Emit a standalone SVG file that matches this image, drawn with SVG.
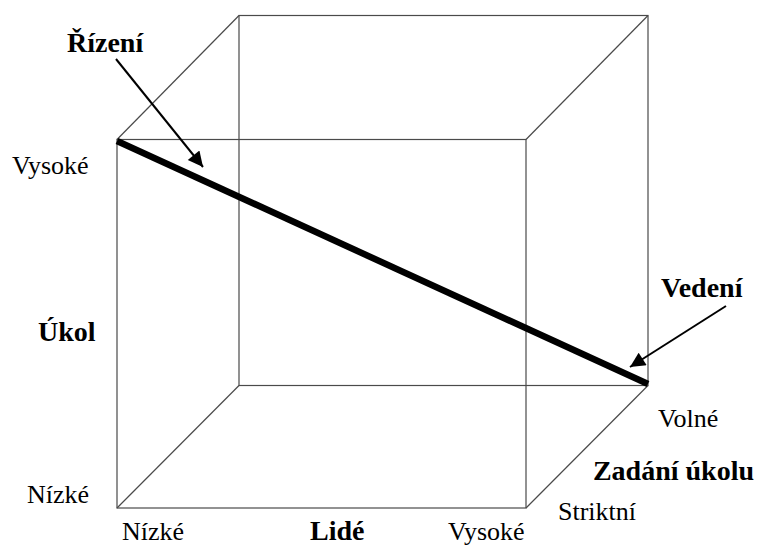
<svg xmlns="http://www.w3.org/2000/svg" width="757" height="546" viewBox="0 0 757 546">
<style>
.edge{fill:none;stroke:#4a4a4a;stroke-width:1.2}
.r{font-family:'Liberation Serif','DejaVu Serif',serif;font-size:26px;fill:#000}
.b{font-family:'Liberation Serif','DejaVu Serif',serif;font-size:28px;font-weight:bold;fill:#000}
.arr{stroke:#000;stroke-width:2;fill:none;marker-end:url(#ah)}
</style>
<defs>
<marker id="ah" viewBox="0 0 10 10" refX="10" refY="5" markerWidth="9.5" markerHeight="7.5" markerUnits="strokeWidth" orient="auto">
<path d="M0,0 L10,5 L0,10 Z" fill="#000"/>
</marker>
</defs>
<rect width="757" height="546" fill="#fff"/>
<g id="cube">
<rect class="edge" x="239" y="15.5" width="409" height="370"/>
<rect class="edge" x="117" y="139.5" width="409" height="368.5"/>
<line class="edge" x1="117" y1="139.5" x2="239" y2="15.5"/>
<line class="edge" x1="526" y1="139.5" x2="648" y2="15.5"/>
<line class="edge" x1="526" y1="508" x2="648" y2="385.5"/>
<line class="edge" x1="117" y1="508" x2="239" y2="385.5"/>
</g>
<g id="diagonal">
<line x1="117" y1="141" x2="648" y2="384" stroke="#000" stroke-width="6.5"/>
</g>
<g id="connectors">
<line class="arr" x1="116" y1="59" x2="203" y2="167"/>
<line class="arr" x1="726" y1="306" x2="630" y2="367"/>
</g>
<g id="labels">
<text class="b" x="67" y="52" font-size="29">Řízení</text>
<text class="b" x="661" y="297">Vedení</text>
<text class="b" x="38" y="341" font-size="26">Úkol</text>
<text class="b" x="310" y="540" font-size="26">Lidé</text>
<text class="b" x="754" y="480" text-anchor="end" font-size="27">Zadání úkolu</text>
<text class="r" x="12" y="174">Vysoké</text>
<text class="r" x="27" y="503">Nízké</text>
<text class="r" x="122" y="540">Nízké</text>
<text class="r" x="448" y="540">Vysoké</text>
<text class="r" x="658" y="427">Volné</text>
<text class="r" x="558" y="520">Striktní</text>
</g>
</svg>
